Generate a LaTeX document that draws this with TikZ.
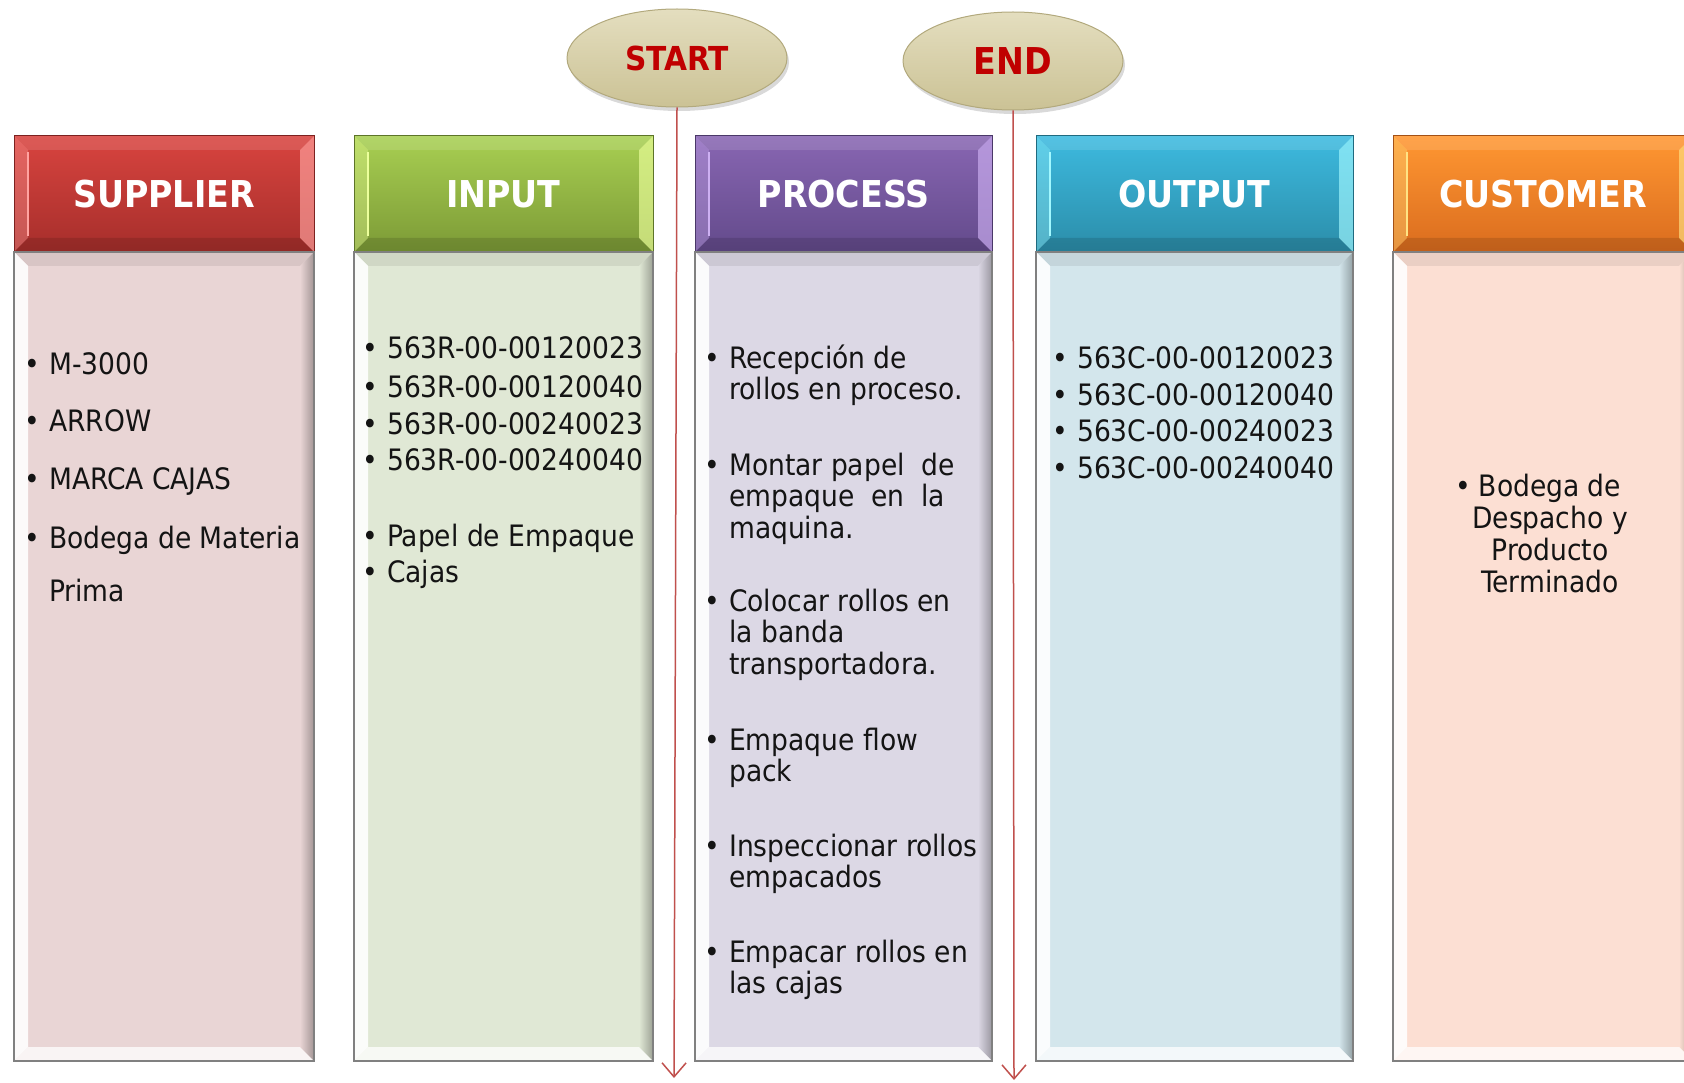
\documentclass[tikz,border=0pt]{standalone}
\usepackage{fontspec}
\setmainfont{DejaVu Sans Condensed}
\usetikzlibrary{arrows.meta,shapes.geometric,shadows}
\definecolor{supT}{HTML}{D8443F}\definecolor{supB}{HTML}{A62E2B}\definecolor{supL}{HTML}{FFA3A0}\definecolor{supF}{HTML}{E9D5D5}
\definecolor{inpT}{HTML}{A8CF52}\definecolor{inpB}{HTML}{7C9A36}\definecolor{inpL}{HTML}{ECFF9C}\definecolor{inpF}{HTML}{E0E8D5}
\definecolor{proT}{HTML}{8866B2}\definecolor{proB}{HTML}{634A8B}\definecolor{proL}{HTML}{CDB0F2}\definecolor{proF}{HTML}{DCD8E5}
\definecolor{outT}{HTML}{3DBADF}\definecolor{outB}{HTML}{2B8DA9}\definecolor{outL}{HTML}{A2F8FF}\definecolor{outF}{HTML}{D3E6EC}
\definecolor{cusT}{HTML}{FF9732}\definecolor{cusB}{HTML}{DA6C1E}\definecolor{cusL}{HTML}{FFE384}\definecolor{cusF}{HTML}{FCDFD3}
\definecolor{ovalT}{HTML}{E4DEBF}\definecolor{ovalB}{HTML}{CBC295}\definecolor{ovalE}{HTML}{B2A97D}
\definecolor{startred}{HTML}{C00000}\definecolor{flowred}{HTML}{C0504D}
\newcommand\bul{\makebox[25pt][l]{•}}
\newcommand\sipcol[8]{%
 \shade[top color=#4, bottom color=#5] (#2,136) rectangle (#3,252);
 \fill[white,opacity=.12] (#2,136) -- ({#2+14},150) -- ({#3-14},150) -- (#3,136) -- cycle;
 \fill[#6,opacity=.35] (#2,136) -- ({#2+14},150) -- ({#2+14},238) -- (#2,252) -- cycle;
 \draw[#6,line width=2pt] ({#2+14},152) -- ({#2+14},236);
 \fill[#6,opacity=.65] (#3,136) -- ({#3-14},150) -- ({#3-14},238) -- (#3,252) -- cycle;
 \fill[black,opacity=.12] (#2,252) -- ({#2+14},238) -- ({#3-14},238) -- (#3,252) -- cycle;
 \draw[#5!75!black, line width=1pt] (#2,136) rectangle (#3,252);
 \node[hdr] (#1H) at ({(#2+#3)/2},208) {#8};
 \fill[#7] (#2,252) rectangle (#3,1061);
 \fill[black,opacity=.07] (#2,252) -- (#3,252) -- ({#3-14},266) -- ({#2+14},266) -- cycle;
 \fill[white,opacity=.9] (#2,252) -- ({#2+14},266) -- ({#2+14},1047) -- (#2,1061) -- cycle;
 \shade[left color=#7, right color=#7!70!black] (#3,252) -- ({#3-14},266) -- ({#3-14},1047) -- (#3,1061) -- cycle;
 \fill[white,opacity=.75] (#2,1061) -- ({#2+14},1047) -- ({#3-14},1047) -- (#3,1061) -- cycle;
 \draw[black!50, line width=1.3pt] (#2,252) rectangle (#3,1061);
}
\tikzset{
 hdr/.style={anchor=base, inner sep=0, text=white, font=\fontsize{37}{40}\selectfont\bfseries},
 item/.style={anchor=base west, inner sep=0, text=black!92, font=\fontsize{29.5}{31.5}\selectfont},
 oval/.style={ellipse, minimum width=220pt, minimum height=98pt, inner sep=0, top color=ovalT, bottom color=ovalB, draw=ovalE, line width=1pt, text=startred, font=\fontsize{33}{35}\selectfont\bfseries, drop shadow={opacity=0.3, shadow xshift=2pt, shadow yshift=-4pt}},
 flow/.style={draw=flowred, line width=1.5pt, -{Straight Barb[length=14pt,width=24pt,line width=1.5pt]}}
}
\begin{document}
\begin{tikzpicture}[x=1pt,y=-1pt]
\useasboundingbox (0,0) rectangle (1684,1083);
\clip (0,0) rectangle (1684,1083);
\sipcol{sup}{14}{314}{supT}{supB}{supL}{supF}{SUPPLIER}
\sipcol{inp}{354}{653}{inpT}{inpB}{inpL}{inpF}{INPUT}
\sipcol{pro}{695}{992}{proT}{proB}{proL}{proF}{PROCESS}
\sipcol{out}{1036}{1353}{outT}{outB}{outL}{outF}{OUTPUT}
\sipcol{cus}{1393}{1693}{cusT}{cusB}{cusL}{cusF}{CUSTOMER}
% supplier
\node[item] (s1) at (24,374) {\bul M-3000};
\node[item] (s2) at (24,431) {\bul ARROW};
\node[item] (s3) at (24,489) {\bul MARCA CAJAS};
\node[item] (s4) at (24,548) {\begin{tabular}[t]{@{}l@{}l@{}}\bul&Bodega de Materia\\[21.5pt]&Prima\end{tabular}};
% input
\node[item] (i1) at (362,359) {\bul 563R-00-00120023};
\node[item] (i2) at (362,397) {\bul 563R-00-00120040};
\node[item] (i3) at (362,434) {\bul 563R-00-00240023};
\node[item] (i4) at (362,470) {\bul 563R-00-00240040};
\node[item] (i5) at (362,546) {\bul Papel de Empaque};
\node[item] (i6) at (362,582) {\bul Cajas};
% process
\node[item] (p1) at (704,368) {\begin{tabular}[t]{@{}l@{}l@{}}\bul&Recepción de\\&rollos en proceso.\end{tabular}};
\node[item] (p2) at (704,475) {\begin{tabular}[t]{@{}l@{}l@{}}\bul&Montar papel\ \ de\\&empaque\ \ en\ \ la\\&maquina.\end{tabular}};
\node[item] (p3) at (704,611) {\begin{tabular}[t]{@{}l@{}l@{}}\bul&Colocar rollos en\\&la banda\\&transportadora.\end{tabular}};
\node[item] (p4) at (704,750) {\begin{tabular}[t]{@{}l@{}l@{}}\bul&Empaque flow\\&pack\end{tabular}};
\node[item] (p5) at (704,856) {\begin{tabular}[t]{@{}l@{}l@{}}\bul&Inspeccionar rollos\\&empacados\end{tabular}};
\node[item] (p6) at (704,962) {\begin{tabular}[t]{@{}l@{}l@{}}\bul&Empacar rollos en\\&las cajas\end{tabular}};
% output
\node[item] (o1) at (1052,368) {\bul 563C-00-00120023};
\node[item] (o2) at (1052,405) {\bul 563C-00-00120040};
\node[item] (o3) at (1052,441) {\bul 563C-00-00240023};
\node[item] (o4) at (1052,478) {\bul 563C-00-00240040};
% customer
\node[item, anchor=base, font=\fontsize{29.5}{32.3}\selectfont] (c1) at (1550,496) {\begin{tabular}[t]{@{}c@{}}\llap{•\hspace{8pt}}Bodega de\\Despacho y\\Producto\\Terminado\end{tabular}};
% start / end
\node[oval] (start) at (677,58) {START};
\node[oval, font=\fontsize{37}{39}\selectfont\bfseries] (end) at (1013,61) {END};
\coordinate (startEnd) at (674,1078);
\coordinate (endEnd) at (1014,1080);
\draw[flow] (start.south) -- (startEnd);
\draw[flow] (end.south) -- (endEnd);
\end{tikzpicture}
\end{document}
